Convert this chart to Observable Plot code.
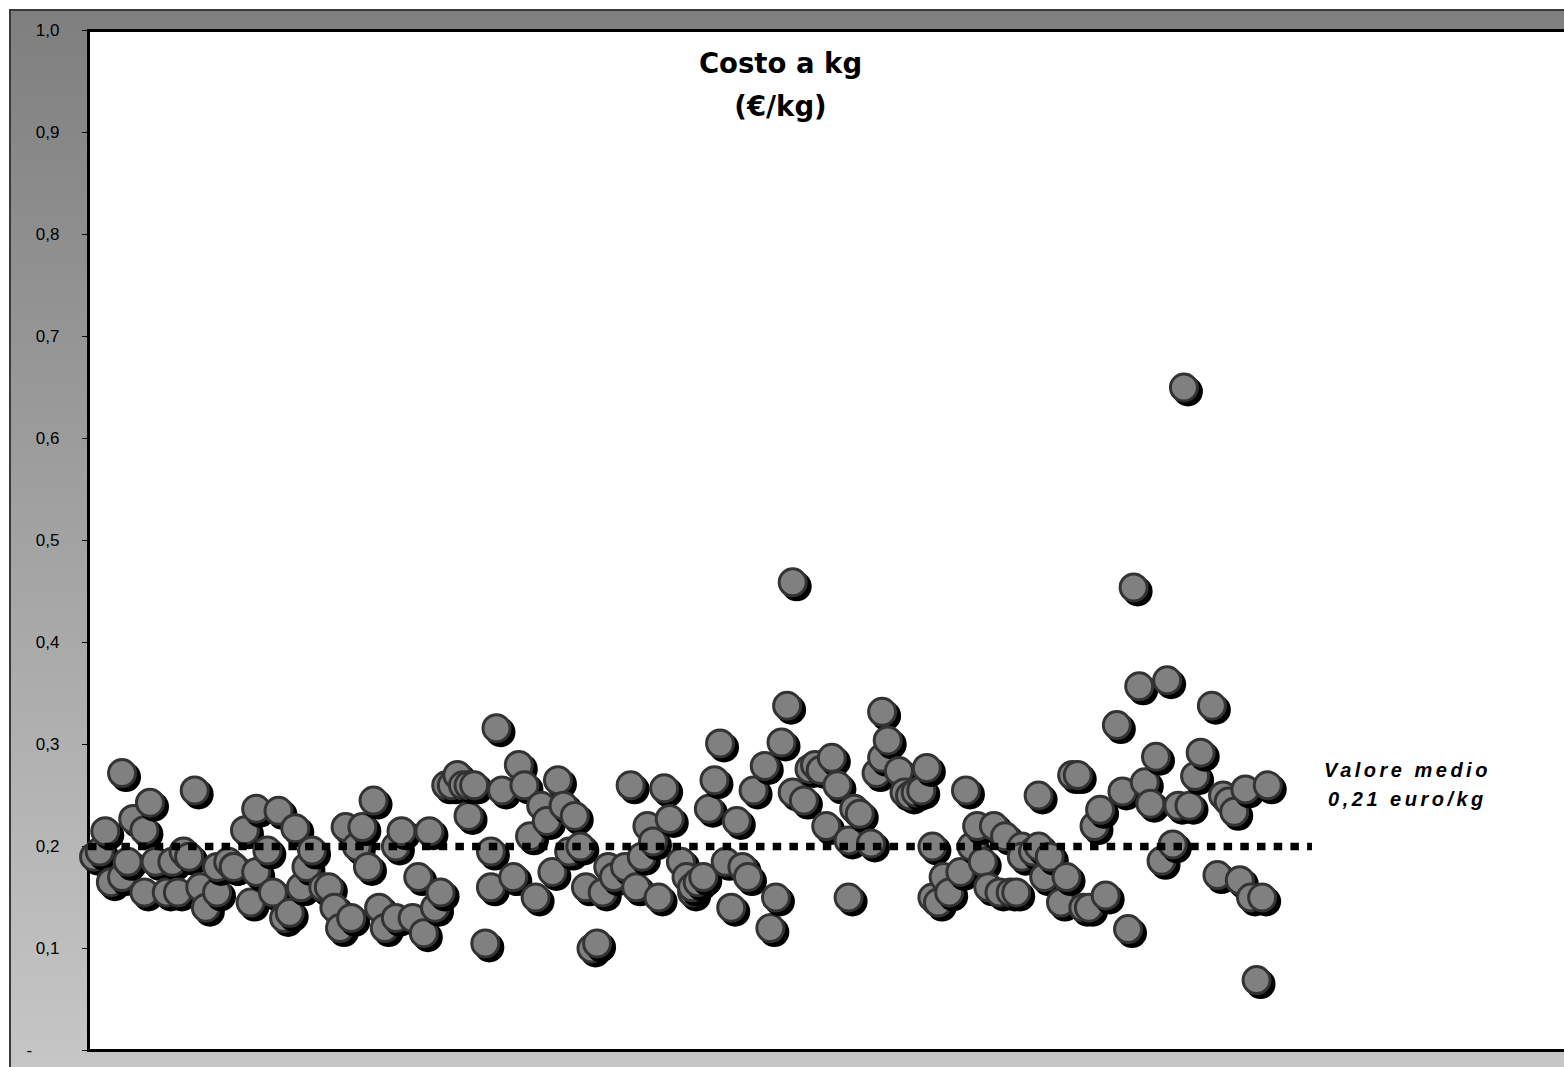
<!DOCTYPE html>
<html>
<head>
<meta charset="utf-8">
<script src="https://cdn.jsdelivr.net/npm/d3@7"></script>
<script src="https://cdn.jsdelivr.net/npm/@observablehq/plot@0.6"></script>
<style>
html, body { margin: 0; padding: 0; background: #ffffff; overflow: hidden; width: 1564px; height: 1067px; }
#chart { position: absolute; left: 9px; top: 9px; width: 1600px; border-left: 2px solid #3a3a3a; border-top: 2px solid #3a3a3a; }
#chart svg { display: block; max-width: none !important; width: 1600px; height: 1070px; }
#chart svg g[aria-label^="y-axis"] text { font-size: 17px; font-family: 'Liberation Sans', Arial, sans-serif; fill: #000; }
</style>
</head>
<body>
<div id="chart"></div>
<script>
// Record number (position along the horizontal axis) of each observation
const recordNo = [
  1, 2, 3, 4, 6, 6, 7, 8, 10, 10,
  11, 12, 14, 15, 16, 17, 18, 19, 20, 21,
  23, 23, 25, 26, 26, 28, 29, 30, 30, 32,
  33, 34, 35, 36, 37, 38, 39, 40, 42, 43,
  44, 45, 46, 47, 48, 49, 50, 51, 52, 53,
  55, 55, 56, 58, 59, 60, 61, 62, 63, 64,
  65, 66, 67, 68, 68, 69, 71, 72, 72, 73,
  74, 76, 77, 78, 79, 80, 81, 82, 83, 84,
  85, 86, 87, 88, 89, 90, 91, 92, 93, 94,
  96, 97, 98, 99, 100, 101, 102, 103, 104, 106,
  107, 108, 108, 109, 110, 111, 112, 113, 114, 115,
  116, 117, 118, 119, 121, 122, 123, 124, 125, 126,
  126, 128, 129, 130, 131, 132, 133, 134, 136, 136,
  137, 138, 140, 141, 142, 142, 143, 145, 146, 147,
  148, 149, 150, 151, 151, 152, 153, 154, 156, 157,
  158, 159, 160, 161, 162, 163, 164, 165, 166, 167,
  167, 169, 170, 170, 171, 172, 174, 175, 176, 177,
  178, 179, 180, 181, 182, 184, 185, 186, 187, 188,
  189, 190, 191, 192, 193, 194, 195, 196, 197,
  198, 199, 201, 202, 203, 204, 205, 206, 207, 208,
  209, 210, 211
];

// Cost per kg (€/kg) of each observation
const costPerKg = [
  0.19, 0.195, 0.215, 0.165, 0.272, 0.17, 0.185, 0.227, 0.155, 0.216,
  0.243, 0.185, 0.155, 0.185, 0.155, 0.195, 0.19, 0.255, 0.16, 0.14,
  0.155, 0.18, 0.185, 0.18, 0.18, 0.216, 0.145, 0.237, 0.175, 0.196,
  0.155, 0.235, 0.13, 0.135, 0.218, 0.16, 0.18, 0.196, 0.16, 0.16,
  0.14, 0.12, 0.219, 0.13, 0.2, 0.219, 0.18, 0.245, 0.14, 0.12,
  0.2, 0.13, 0.215, 0.13, 0.17, 0.115, 0.215, 0.14, 0.155, 0.26,
  0.26, 0.27, 0.26, 0.23, 0.26, 0.26, 0.105, 0.16, 0.195, 0.316,
  0.255, 0.17, 0.28, 0.26, 0.21, 0.15, 0.24, 0.225, 0.175, 0.265,
  0.24, 0.195, 0.23, 0.2, 0.16, 0.1, 0.105, 0.155, 0.18, 0.17,
  0.18, 0.26, 0.16, 0.19, 0.22, 0.205, 0.15, 0.257, 0.227, 0.185,
  0.17, 0.155, 0.16, 0.165, 0.17, 0.237, 0.265, 0.301, 0.185, 0.14,
  0.225, 0.18, 0.17, 0.255, 0.279, 0.12, 0.15, 0.302, 0.338, 0.459,
  0.253, 0.245, 0.276, 0.28, 0.275, 0.22, 0.287, 0.26, 0.15, 0.206,
  0.237, 0.232, 0.203, 0.272, 0.287, 0.332, 0.304, 0.274, 0.253, 0.25,
  0.253, 0.255, 0.277, 0.15, 0.2, 0.145, 0.17, 0.155, 0.175, 0.255,
  0.2, 0.22, 0.185, 0.16, 0.22, 0.155, 0.21, 0.155, 0.155, 0.2,
  0.19, 0.195, 0.25, 0.2, 0.17, 0.19, 0.145, 0.17, 0.27, 0.27,
  0.14, 0.14, 0.22, 0.236, 0.152, 0.319, 0.254, 0.119, 0.454, 0.357,
  0.263, 0.242, 0.288, 0.186, 0.363, 0.202, 0.24, 0.65, 0.24,
  0.269, 0.292, 0.338, 0.172, 0.25, 0.244, 0.234, 0.167, 0.256, 0.15,
  0.069, 0.15, 0.26
];

const yTicks = [0, 0.1, 0.2, 0.3, 0.4, 0.5, 0.6, 0.7, 0.8, 0.9, 1.0];
const xDomain = [0, 270];
const meanValue = 0.2;
const meanExtent = [0, 219];
const titleLines = ["Costo a kg", "(€/kg)"];
const meanLabelLines = ["Valore medio", "0,21 euro/kg"];

const points = recordNo.map((n, i) => ({n, v: costPerKg[i]}));

const plot = Plot.plot({
  width: 1600,
  height: 1070,
  marginLeft: 77,
  marginTop: 19,
  marginRight: 14,
  marginBottom: 31,
  style: {
    background: "linear-gradient(to bottom, #7f7f7f 0%, #c7c7c7 100%)",
    fontFamily: "'Liberation Sans', Arial, sans-serif",
    fontSize: "17px",
    color: "#000",
    maxWidth: "none"
  },
  x: {domain: xDomain, axis: null},
  y: {
    domain: [0, 1],
    ticks: yTicks,
    tickFormat: d => d === 0 ? "" : d.toFixed(1).replace(".", ","),
    tickSize: 6,
    tickPadding: 23,
    label: null
  },
  marks: [
    Plot.frame({fill: "#ffffff", stroke: "#000", strokeWidth: 3}),
    Plot.text([0], {y: d => d, text: () => "-", frameAnchor: "left", dx: -62, textAnchor: "start", fontSize: 17, fill: "#000"}),
    Plot.dot(points, {x: "n", y: "v", r: 13.5, fill: "#808080", stroke: "#333333", strokeWidth: 3, ariaLabel: "points"}),
    Plot.ruleY([meanValue], {x1: meanExtent[0], x2: meanExtent[1], stroke: "#000", strokeWidth: 7.5, strokeDasharray: "8.5 8.2"}),
    Plot.text([titleLines.join("\n")], {
      text: d => d, frameAnchor: "top-left", dx: 692, dy: 12.5, lineAnchor: "top", textAnchor: "middle",
      fontFamily: "'DejaVu Sans', Verdana, sans-serif", fontWeight: "bold", fontSize: 27.5, lineHeight: 1.56, fill: "#000"
    }),
    Plot.text([meanLabelLines.join("\n")], {
      text: d => d, x: () => meanExtent[1], y: () => meanValue, dx: 95, dy: -90, lineAnchor: "top", textAnchor: "middle",
      fontFamily: "'Liberation Sans', Arial, sans-serif", fontWeight: "bold", fontStyle: "italic", fontSize: 20, lineHeight: 1.45,
      fill: "#000", ariaLabel: "mean label"
    })
  ]
});

// Excel-like drop shadow behind each marker, drawn in series order
const dotGroup = plot.querySelector('g[aria-label="points"]') || plot.querySelector('g[aria-label="dot"]');
if (dotGroup) {
  for (const c of Array.from(dotGroup.querySelectorAll("circle"))) {
    const s = c.cloneNode();
    s.setAttribute("fill", "#000");
    s.setAttribute("stroke", "none");
    s.setAttribute("r", "15");
    const t = c.getAttribute("transform") || "";
    s.setAttribute("transform", (t + " translate(4,4)").trim());
    c.parentNode.insertBefore(s, c);
  }
}
// Wide letter spacing of the mean-value note
for (const t of Array.from(plot.querySelectorAll("text"))) {
  if (t.textContent.includes("Valore medio")) {
    t.setAttribute("letter-spacing", "3.5");
    t.style.letterSpacing = "3.5px";
  }
}

document.getElementById("chart").appendChild(plot);
</script>
</body>
</html>
